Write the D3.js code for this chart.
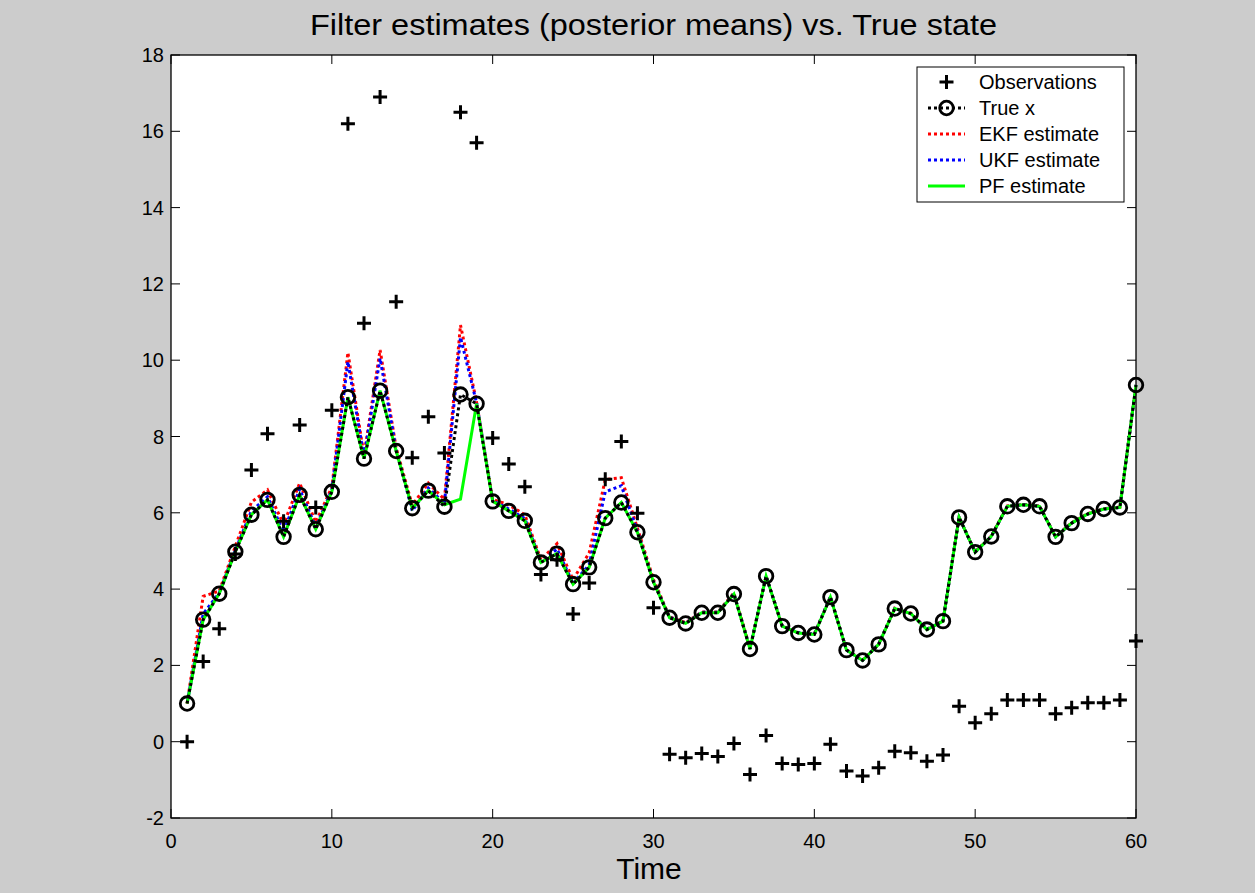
<!DOCTYPE html>
<html>
<head>
<meta charset="utf-8">
<script src="https://cdn.jsdelivr.net/npm/d3@7"></script>
<style>
html,body{margin:0;padding:0;background:#cccccc;}
svg{display:block;font-family:"Liberation Sans",Arial,Helvetica,sans-serif;}
</style>
</head>
<body>
<svg id="chart" width="1255" height="893"></svg>
<script>
const time = [1,2,3,4,5,6,7,8,9,10,11,12,13,14,15,16,17,18,19,20,21,22,23,24,25,26,27,28,29,30,31,32,33,34,35,36,37,38,39,40,41,42,43,44,45,46,47,48,49,50,51,52,53,54,55,56,57,58,59,60];
const observations = [0.0,2.1,2.96,4.92,7.12,8.07,5.78,8.3,6.14,8.69,16.2,10.97,16.9,11.53,7.44,8.52,7.57,16.5,15.7,7.96,7.28,6.68,4.38,4.77,3.35,4.16,6.88,7.87,5.99,3.51,-0.33,-0.42,-0.31,-0.39,-0.05,-0.86,0.16,-0.57,-0.6,-0.57,-0.07,-0.77,-0.9,-0.68,-0.25,-0.29,-0.51,-0.35,0.93,0.5,0.73,1.09,1.09,1.09,0.73,0.89,1.02,1.02,1.09,2.64];
const trueX = [1.0,3.2,3.88,4.98,5.95,6.34,5.37,6.47,5.57,6.55,9.03,7.42,9.2,7.62,6.12,6.58,6.16,9.1,8.86,6.3,6.05,5.79,4.7,4.93,4.13,4.57,5.86,6.27,5.49,4.18,3.25,3.1,3.38,3.38,3.87,2.43,4.34,3.03,2.85,2.81,3.79,2.4,2.13,2.55,3.49,3.36,2.94,3.16,5.88,4.97,5.38,6.17,6.21,6.17,5.37,5.73,5.97,6.1,6.14,9.35];
const ekf = [1.0,3.81,3.95,5.12,6.28,6.6,5.7,6.78,5.75,6.67,10.2,7.5,10.27,7.7,6.2,6.78,6.35,10.92,8.9,6.35,6.21,5.95,4.77,5.19,4.25,4.95,6.87,6.92,5.6,4.25,3.27,3.12,3.4,3.4,3.9,2.45,4.34,3.05,2.86,2.83,3.8,2.41,2.14,2.56,3.5,3.37,2.95,3.17,5.88,4.98,5.39,6.18,6.22,6.18,5.38,5.74,5.98,6.11,6.15,9.35];
const ukf = [1.0,3.35,3.9,5.02,6.05,6.42,5.5,6.62,5.62,6.6,9.96,7.45,10.05,7.65,6.05,6.65,6.25,10.6,8.88,6.32,6.1,5.85,4.72,5.05,4.15,4.64,6.55,6.71,5.52,4.2,3.26,3.11,3.39,3.39,3.88,2.44,4.34,3.04,2.86,2.82,3.8,2.4,2.13,2.56,3.49,3.36,2.95,3.16,5.88,4.97,5.38,6.17,6.21,6.17,5.37,5.73,5.97,6.1,6.14,9.35];
const pf = [1.0,3.2,3.88,4.98,5.95,6.34,5.37,6.47,5.57,6.55,9.03,7.42,9.2,7.62,6.12,6.58,6.21,6.36,8.86,6.3,6.05,5.79,4.7,4.93,4.13,4.57,5.86,6.27,5.49,4.18,3.25,3.1,3.38,3.38,3.87,2.43,4.34,3.03,2.85,2.81,3.79,2.4,2.13,2.55,3.49,3.36,2.94,3.16,5.88,4.97,5.38,6.17,6.21,6.17,5.37,5.73,5.97,6.1,6.14,9.35];
const xTicks = [0,10,20,30,40,50,60];
const yTicks = [-2,0,2,4,6,8,10,12,14,16,18];
const legendLabels = ["Observations","True x","EKF estimate","UKF estimate","PF estimate"];
const titleText = "Filter estimates (posterior means) vs. True state";
const xLabelText = "Time";

const svg = d3.select("#chart");
const L = 171, R = 1136, T = 55, B = 818;
const x = d3.scaleLinear().domain([0,60]).range([L,R]);
const y = d3.scaleLinear().domain([-2,18]).range([B,T]);

// plot background
svg.append("rect").attr("x",L).attr("y",T).attr("width",R-L).attr("height",B-T)
  .attr("fill","#ffffff");

// ticks (inward, all four sides)
const tk = 9;
const tg = svg.append("g").attr("stroke","#000").attr("stroke-width",1);
xTicks.forEach(v=>{
  tg.append("line").attr("x1",x(v)).attr("x2",x(v)).attr("y1",B).attr("y2",B-tk);
  tg.append("line").attr("x1",x(v)).attr("x2",x(v)).attr("y1",T).attr("y2",T+tk);
});
yTicks.forEach(v=>{
  tg.append("line").attr("y1",y(v)).attr("y2",y(v)).attr("x1",L).attr("x2",L+tk);
  tg.append("line").attr("y1",y(v)).attr("y2",y(v)).attr("x1",R).attr("x2",R-tk);
});

// tick labels
svg.append("g").selectAll("text").data(xTicks).join("text")
  .attr("x",d=>x(d)).attr("y",848).attr("text-anchor","middle")
  .attr("font-size",20).attr("fill","#000").text(d=>d);
svg.append("g").selectAll("text").data(yTicks).join("text")
  .attr("x",164).attr("y",d=>y(d)+7).attr("text-anchor","end")
  .attr("font-size",20).attr("fill","#000").text(d=>d);

// data lines
const line = (arr)=>d3.line().x((d,i)=>x(time[i])).y(d=>y(d))(arr);
const plot = svg.append("g");
plot.append("path").attr("d",line(ekf)).attr("fill","none").attr("stroke","#ff0000")
  .attr("stroke-width",3).attr("stroke-dasharray","3,3");
plot.append("path").attr("d",line(ukf)).attr("fill","none").attr("stroke","#0000ff")
  .attr("stroke-width",3).attr("stroke-dasharray","3,3").attr("stroke-dashoffset",3);
plot.append("path").attr("d",line(pf)).attr("fill","none").attr("stroke","#00ff00")
  .attr("stroke-width",3);
plot.append("path").attr("d",line(trueX)).attr("fill","none").attr("stroke","#000000")
  .attr("stroke-width",3).attr("stroke-dasharray","3,3");
plot.append("g").selectAll("circle").data(trueX).join("circle")
  .attr("cx",(d,i)=>x(time[i])).attr("cy",d=>y(d)).attr("r",6.8)
  .attr("fill","none").attr("stroke","#000").attr("stroke-width",2.8);
const plus = "M-7,0H7M0,-7V7";
plot.append("g").selectAll("path").data(observations).join("path")
  .attr("transform",(d,i)=>`translate(${x(time[i])},${y(d)})`)
  .attr("d",plus).attr("stroke","#000").attr("stroke-width",3).attr("fill","none");

// axis box
svg.append("rect").attr("x",L).attr("y",T).attr("width",R-L).attr("height",B-T)
  .attr("fill","none").attr("stroke","#000").attr("stroke-width",1.3);

// title and label
svg.append("text").attr("x",(L+R)/2).attr("y",35).attr("text-anchor","middle")
  .attr("font-size",29).attr("textLength",687).attr("lengthAdjust","spacingAndGlyphs")
  .attr("fill","#000").text(titleText);
svg.append("text").attr("x",649).attr("y",879).attr("text-anchor","middle")
  .attr("font-size",30).attr("fill","#000").text(xLabelText);

// legend
const lg = svg.append("g");
lg.append("rect").attr("x",917).attr("y",67).attr("width",207).attr("height",135)
  .attr("fill","#fff").attr("stroke","#000").attr("stroke-width",1);
const rowY = [82,108,134,160,186];
const sx1 = 928, sx2 = 965, sxm = 946.5;
// observations
lg.append("path").attr("transform",`translate(${sxm},${rowY[0]})`).attr("d",plus)
  .attr("stroke","#000").attr("stroke-width",3);
// true x
lg.append("line").attr("x1",sx1).attr("x2",sx2).attr("y1",rowY[1]).attr("y2",rowY[1])
  .attr("stroke","#000").attr("stroke-width",3).attr("stroke-dasharray","3,3");
lg.append("circle").attr("cx",sxm).attr("cy",rowY[1]).attr("r",6.8)
  .attr("fill","none").attr("stroke","#000").attr("stroke-width",2.8);
lg.append("line").attr("x1",sx1).attr("x2",sx2).attr("y1",rowY[2]).attr("y2",rowY[2])
  .attr("stroke","#ff0000").attr("stroke-width",3).attr("stroke-dasharray","3,3");
lg.append("line").attr("x1",sx1).attr("x2",sx2).attr("y1",rowY[3]).attr("y2",rowY[3])
  .attr("stroke","#0000ff").attr("stroke-width",3).attr("stroke-dasharray","3,3");
lg.append("line").attr("x1",sx1).attr("x2",sx2).attr("y1",rowY[4]).attr("y2",rowY[4])
  .attr("stroke","#00ff00").attr("stroke-width",3);
lg.selectAll("text.lt").data(legendLabels).join("text").attr("class","lt")
  .attr("x",979).attr("y",(d,i)=>rowY[i]+7).attr("font-size",20).attr("fill","#000")
  .text(d=>d);
</script>
</body>
</html>
